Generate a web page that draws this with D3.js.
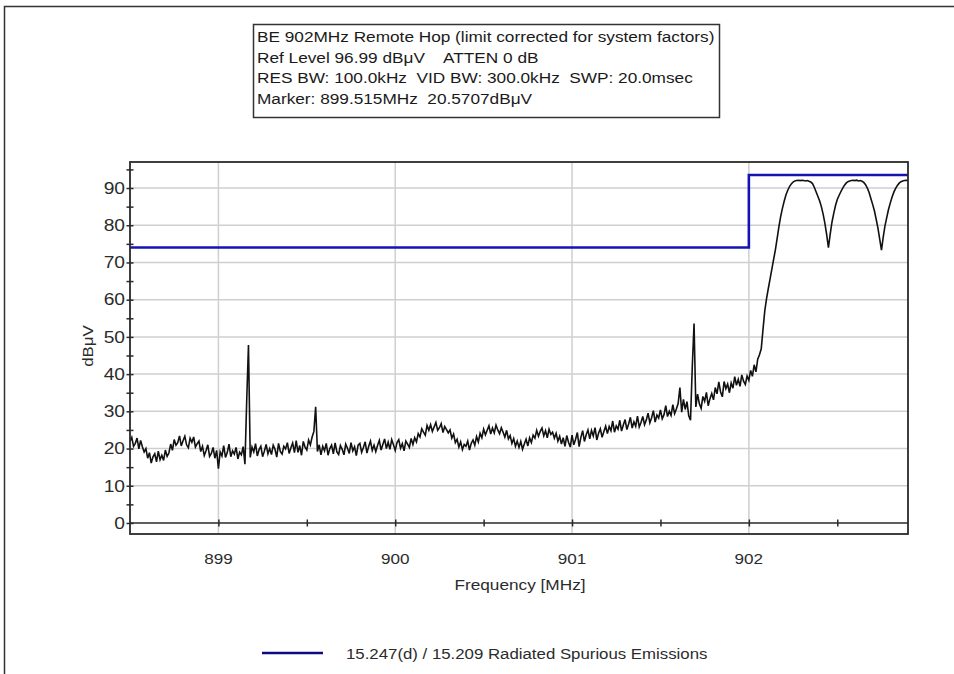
<!DOCTYPE html>
<html>
<head>
<meta charset="utf-8">
<script src="https://cdn.jsdelivr.net/npm/d3@7"></script>
<style>
  html, body { margin: 0; padding: 0; background: #fff; }
  svg { display: block; }
  text { font-family: "Liberation Sans", Arial, sans-serif; fill: #2b2b2b; }
</style>
</head>
<body>
<svg id="chart" width="954" height="674"></svg>
<script>
// Header block of the spectrum analyser plot
const headerLines = [
  "BE 902MHz Remote Hop (limit corrected for system factors)",
  "Ref Level 96.99 dB\u03bcV    ATTEN 0 dB",
  "RES BW: 100.0kHz  VID BW: 300.0kHz  SWP: 20.0msec",
  "Marker: 899.515MHz  20.5707dB\u03bcV"
];
const legendLabel = "15.247(d) / 15.209 Radiated Spurious Emissions";
const xAxisTitle = "Frequency [MHz]";
const yAxisTitle = "dB\u03bcV";

// Axis extents (MHz, dBµV) and tick sets
const freqDomain = [898.5, 902.9];
const levelDomain = [-2.96, 96.99];
const freqMajorTicks = [899, 900, 901, 902];
const freqMinorTicks = [899, 899.5, 900, 900.5, 901, 901.5, 902, 902.5];
const levelMajorTicks = [0, 10, 20, 30, 40, 50, 60, 70, 80, 90];
const levelMinorTicks = [0, 5, 10, 15, 20, 25, 30, 35, 40, 45, 50, 55, 60, 65, 70, 75, 80, 85, 90, 95];

// Limit line (blue)
const limitFreq = [898.5, 902.0, 902.0, 902.9];
const limitLevel = [74, 74, 93.5, 93.5];

// Sweep: start frequency, bin spacing (MHz), and measured level per bin (dBµV)
const sweepStart = 898.5;
const sweepStep = 0.01;
const sweepLevel = [
  // 898.50
  21.9, 23.0, 20.6, 21.4, 22.8, 19.9, 22.2, 20.5, 19.1, 20.0,
  17.4, 18.9, 16.1, 17.8, 18.6, 16.4, 19.3, 17.0, 18.2, 16.8,
  19.6, 17.9, 18.8, 21.2, 19.5, 22.4, 20.9, 21.6, 23.4, 20.7,
  22.1, 23.3, 21.0, 20.2, 22.8, 21.7, 23.1, 20.4, 21.3, 22.0,
  19.2, 20.6, 18.1, 19.4, 21.0, 17.9, 18.7, 20.3, 17.4, 19.5,
  // 899.00
  14.6, 19.1, 18.0, 20.8, 17.6, 18.9, 21.2, 17.8, 19.4, 18.5,
  20.3, 17.2, 19.0, 18.3, 20.5, 15.8, 32.8, 47.8, 17.6, 20.4,
  19.1, 21.3, 18.0, 19.7, 20.6, 17.8, 19.3, 21.1, 18.6, 20.0,
  18.4, 20.9, 19.8, 17.7, 21.4, 19.2, 18.5, 20.6, 19.9, 21.6,
  18.7, 20.2, 21.5, 18.9, 22.1, 19.0, 20.8, 18.2, 21.9, 20.4,
  // 899.50
  19.6, 22.3, 21.0, 23.1, 24.6, 31.2, 19.2, 21.0, 18.3, 20.6,
  19.4, 21.4, 18.2, 20.0, 20.9, 18.6, 21.5, 19.1, 18.4, 20.8,
  19.8, 18.3, 21.2, 20.1, 18.7, 21.6, 19.4, 20.5, 18.1, 20.9,
  21.4, 19.0, 20.3, 21.8, 18.8, 20.6, 22.0, 19.5, 20.9, 19.2,
  20.8, 22.2, 19.6, 21.1, 22.6, 20.0, 21.7, 19.8, 22.4, 21.0,
  // 900.00
  19.5, 21.6, 22.4, 20.1, 21.3, 19.4, 22.0, 21.2, 20.3, 22.7,
  21.1, 22.9, 21.8, 24.0, 23.1, 25.3, 24.4, 23.6, 26.2, 24.9,
  26.4, 24.6, 25.8, 27.0, 24.9, 25.6, 26.7, 24.3, 25.9, 25.1,
  24.2, 25.0, 22.8, 23.9, 21.6, 22.5, 20.4, 21.8, 19.7, 21.1,
  20.6, 22.0, 19.6, 21.4, 22.3, 20.9, 23.2, 21.8, 24.1, 22.9,
  // 900.50
  25.2, 23.7, 24.9, 26.1, 23.9, 25.5, 24.2, 26.3, 25.0, 24.0,
  25.6, 24.4, 23.1, 24.9, 22.6, 23.5, 21.4, 22.7, 20.6, 22.0,
  20.3, 21.9, 19.8, 21.2, 22.5, 20.7, 22.9, 21.6, 23.6, 22.8,
  24.9, 23.3, 24.6, 25.5, 23.4, 24.8, 22.9, 25.2, 23.8, 24.4,
  22.8, 24.1, 22.0, 23.3, 21.2, 22.9, 20.6, 23.5, 21.7, 20.4,
  // 901.00
  23.6, 21.0, 22.5, 24.3, 20.5, 23.0, 24.8, 21.9, 23.7, 25.0,
  22.6, 24.9, 23.4, 25.6, 22.3, 24.1, 25.3, 23.0, 24.6, 26.0,
  24.0, 25.9, 24.8, 27.4, 24.4, 26.1, 25.2, 27.6, 24.7, 26.3,
  27.8, 25.1, 26.6, 28.4, 25.5, 27.2, 26.0, 28.7, 25.8, 27.0,
  28.6, 26.4, 27.7, 29.5, 26.9, 28.3, 30.2, 27.1, 29.0, 28.2,
  // 901.50
  30.4, 28.0, 29.1, 31.5, 28.6, 30.0, 28.9, 31.8, 29.4, 30.6,
  32.1, 36.4, 29.8, 33.2, 30.5, 32.6, 28.8, 27.6, 42.0, 53.6,
  31.2, 34.6, 32.0, 30.8, 34.0, 32.7, 35.1, 31.5, 33.4, 34.8,
  33.1, 36.4, 34.7, 37.9, 35.2, 33.9, 38.0, 36.1, 37.3, 35.0,
  37.6, 36.2, 39.3, 37.0, 38.6, 36.7, 39.8, 38.1, 37.2, 39.5,
  // 902.00
  38.3, 41.0, 39.4, 42.5, 40.6, 44.0, 45.2, 46.8, 52.0, 57.0,
  60.3, 63.0, 65.6, 68.2, 70.8, 73.4, 76.5, 79.6, 82.4, 84.6,
  86.5, 88.2, 89.4, 90.4, 91.1, 91.6, 91.9, 92.0, 92.1, 92.0,
  92.1, 92.0, 91.9, 92.0, 91.8, 91.6, 91.2, 90.2, 89.0, 87.8,
  86.6, 85.0, 83.0, 80.5, 77.5, 74.0, 77.6, 80.8, 83.2, 85.3,
  // 902.50
  86.9, 88.0, 89.0, 89.9, 90.7, 91.3, 91.7, 91.9, 92.0, 92.1,
  92.0, 92.1, 91.9, 92.0, 91.8, 91.5, 90.9, 90.0, 88.8, 87.2,
  85.6, 83.9, 81.6, 79.2, 76.3, 73.3, 76.9, 79.9, 82.1, 84.3,
  86.0, 87.6, 88.9, 89.9, 90.7, 91.3, 91.7, 91.9, 92.0, 92.1,
  92.0
];

// ---------------------------------------------------------------
const svg = d3.select("#chart");
const W = 954, H = 674;
const plot = { left: 130, right: 908, top: 162, bottom: 534 };

const x = d3.scaleLinear().domain(freqDomain).range([plot.left, plot.right]);
const y = d3.scaleLinear().domain(levelDomain).range([plot.bottom, plot.top]);

// Glyphs in this plot render wide: stretch a text element horizontally by k
function widen(sel, k) {
  sel.each(function () {
    const len = this.getComputedTextLength();
    d3.select(this).attr("textLength", len * k).attr("lengthAdjust", "spacingAndGlyphs");
  });
  return sel;
}

// Outer frame (top and left edges)
svg.append("path")
  .attr("d", `M4.5,${H} L4.5,6.5 L${W},6.5`)
  .attr("fill", "none").attr("stroke", "#333").attr("stroke-width", 1.5);

// Header box
const header = svg.append("g");
header.append("rect")
  .attr("x", 253.5).attr("y", 24.5).attr("width", 466).attr("height", 93)
  .attr("fill", "#fff").attr("stroke", "#333").attr("stroke-width", 1.5);
header.selectAll("text").data(headerLines).join("text")
  .attr("x", 257).attr("y", (d, i) => 42 + i * 20.7)
  .style("font-size", "14px").style("white-space", "pre").style("fill", "#1a1a1a")
  .text(d => d)
  .call(widen, 1.23);

// Grid
const grid = svg.append("g").attr("stroke", "#cfcfcf").attr("stroke-width", 1.5);
grid.selectAll("line.v").data(freqMajorTicks).join("line")
  .attr("x1", d => x(d)).attr("x2", d => x(d))
  .attr("y1", plot.top).attr("y2", plot.bottom);
grid.selectAll("line.h").data(levelMajorTicks.filter(d => d > 0)).join("line")
  .attr("x1", plot.left).attr("x2", plot.right)
  .attr("y1", d => y(d)).attr("y2", d => y(d));

// Clip region for series
svg.append("clipPath").attr("id", "plotClip")
  .append("rect").attr("x", plot.left).attr("y", plot.top)
  .attr("width", plot.right - plot.left).attr("height", plot.bottom - plot.top);

// Measured sweep
const sweep = sweepLevel.map((v, i) => [sweepStart + i * sweepStep, v]);
svg.append("path")
  .datum(sweep)
  .attr("clip-path", "url(#plotClip)")
  .attr("fill", "none").attr("stroke", "#111").attr("stroke-width", 1.6)
  .attr("stroke-linejoin", "miter")
  .attr("d", d3.line().x(d => x(d[0])).y(d => y(d[1])));

// Limit line
const limit = limitFreq.map((f, i) => [f, limitLevel[i]]);
svg.append("path")
  .datum(limit)
  .attr("clip-path", "url(#plotClip)")
  .attr("fill", "none").attr("stroke", "#1414b4").attr("stroke-width", 2.6)
  .attr("d", d3.line().x(d => x(d[0])).y(d => y(d[1])));

// X axis along 0 dBµV
const xAxis = d3.axisBottom(x).tickValues(freqMinorTicks).tickSize(0).tickFormat("");
const xg = svg.append("g").attr("transform", `translate(0,${y(0)})`).call(xAxis);
xg.select(".domain").remove();
xg.append("line").attr("x1", plot.left).attr("x2", plot.right)
  .attr("stroke", "#2a2a2a").attr("stroke-width", 1.5);
xg.selectAll(".tick").append("line")
  .attr("y1", -3.5).attr("y2", 3.5).attr("stroke", "#2a2a2a").attr("stroke-width", 1.5);

// X tick labels below the frame
svg.append("g").selectAll("text").data(freqMajorTicks).join("text")
  .attr("x", d => x(d)).attr("y", 564)
  .attr("text-anchor", "middle").style("font-size", "15px")
  .text(d => d3.format("d")(d))
  .call(widen, 1.14);

// Y axis on the left frame edge
const yAxis = d3.axisLeft(y).tickValues(levelMinorTicks).tickSize(0).tickFormat("");
const yg = svg.append("g").attr("transform", `translate(${plot.left},0)`).call(yAxis);
yg.select(".domain").remove();
yg.selectAll(".tick").append("line")
  .attr("x1", -3.5).attr("x2", 3.5).attr("stroke", "#2a2a2a").attr("stroke-width", 1.5);
svg.append("g").selectAll("text").data(levelMajorTicks).join("text")
  .attr("x", 125).attr("y", d => y(d) + 5.8)
  .attr("text-anchor", "end").style("font-size", "16px")
  .text(d => d)
  .call(widen, 1.2);

// Plot frame
svg.append("rect")
  .attr("x", plot.left).attr("y", plot.top)
  .attr("width", plot.right - plot.left).attr("height", plot.bottom - plot.top)
  .attr("fill", "none").attr("stroke", "#2a2a2a").attr("stroke-width", 1.8);

// Axis titles
svg.append("text")
  .attr("transform", `translate(93,${(plot.top + plot.bottom) / 2 - 2}) rotate(-90)`)
  .attr("text-anchor", "middle").style("font-size", "14px")
  .text(yAxisTitle)
  .call(widen, 1.2);
svg.append("text")
  .attr("x", 520).attr("y", 590)
  .attr("text-anchor", "middle").style("font-size", "14px")
  .text(xAxisTitle)
  .call(widen, 1.23);

// Legend
const legend = svg.append("g");
legend.append("line")
  .attr("x1", 262).attr("x2", 323).attr("y1", 653).attr("y2", 653)
  .attr("stroke", "#0c0c80").attr("stroke-width", 2.6);
legend.append("text")
  .attr("x", 346).attr("y", 658.5).style("font-size", "14px")
  .text(legendLabel)
  .call(widen, 1.2);
</script>
</body>
</html>
